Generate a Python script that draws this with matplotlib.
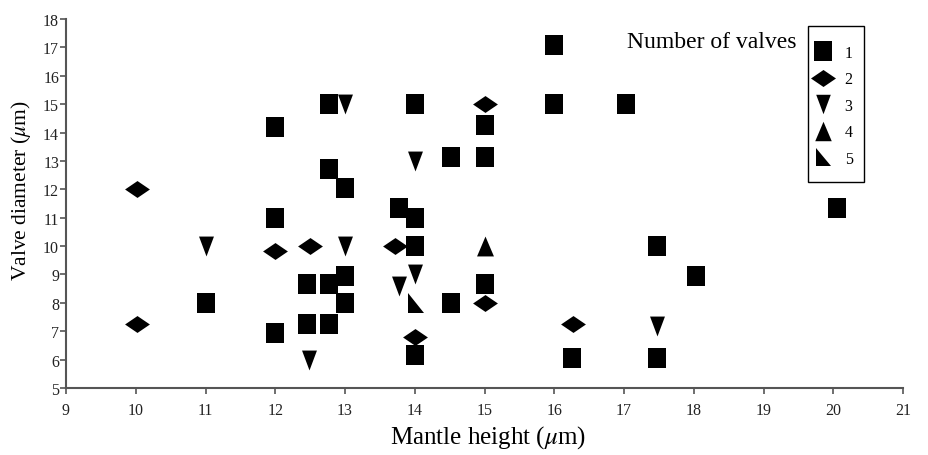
import matplotlib
matplotlib.use('Agg')
import matplotlib.pyplot as plt
from matplotlib.lines import Line2D
from matplotlib.patches import Rectangle

plt.rcParams['font.family'] = ['Liberation Serif', 'DejaVu Serif']
plt.rcParams['mathtext.fontset'] = 'stix'

# 1 valve (squares)
sq_x = [11, 12, 12, 12, 12.45, 12.45, 12.77, 12.77, 12.77, 12.77, 13, 13, 13,
        13.78, 14, 14, 14, 14, 14.52, 14.52, 15, 15, 15, 16, 16, 16.25, 17.03,
        17.47, 17.47, 18.03, 20.05]
sq_y = [8, 14.2, 11, 6.95, 8.65, 7.25, 15, 12.7, 8.65, 7.25, 12.05, 8.95, 8,
        11.35, 15, 11, 10, 6.15, 13.15, 8, 14.25, 13.15, 8.65, 17.1, 15, 6.07, 15,
        10, 6.07, 8.95, 11.35]
# 2 valves (diamonds)
di_x = [10.02, 10.02, 12, 12.5, 13.72, 14, 15, 15, 16.27]
di_y = [12, 7.25, 9.83, 10, 10, 6.8, 15, 8, 7.25]
# 3 valves (down triangles)
dn_x = [11, 12.48, 13, 13, 13.78, 14, 14, 17.47]
dn_y = [10, 6, 15, 10, 8.6, 9, 13, 7.2]
# 4 valves (up triangle)
up_x = [15]
up_y = [10]
# 5 valves (right triangle)
rt_x = [14.02]
rt_y = [8]

x_ticks = list(range(9, 22))
y_ticks = list(range(5, 19))
labels = ['1', '2', '3', '4', '5']

# marker shapes
m_sq = [(-0.9, -1), (0.9, -1), (0.9, 1), (-0.9, 1)]
m_di = [(-1, 0), (0, 0.68), (1, 0), (0, -0.68)]
m_dn = [(-0.75, 1), (0.75, 1), (0, -1)]
m_up = [(-0.85, -1), (0.85, -1), (0, 1)]
m_rt = [(-0.8, 1), (-0.8, -1), (0.8, -1)]

fig = plt.figure(figsize=(9.29, 4.56), dpi=100)
ax = fig.add_axes([66 / 929, (456 - 389) / 456, (903 - 66) / 929, (389 - 20) / 456])

ax.scatter(sq_x, sq_y, marker=m_sq, s=205, c='black', lw=0)
ax.scatter(di_x, di_y, marker=m_di, s=320, c='black', lw=0)
ax.scatter(dn_x, dn_y, marker=m_dn, s=205, c='black', lw=0)
ax.scatter(up_x, up_y, marker=m_up, s=205, c='black', lw=0)
ax.scatter(rt_x, rt_y, marker=m_rt, s=190, c='black', lw=0)

ax.set_xlim(9, 21)
ax.set_ylim(5, 18)
ax.set_xticks(x_ticks)
ax.set_yticks(y_ticks)
ax.spines['top'].set_visible(False)
ax.spines['right'].set_visible(False)
for s in ['left', 'bottom']:
    ax.spines[s].set_color('#555555')
    ax.spines[s].set_linewidth(1.5)
ax.tick_params(direction='out', length=4, width=1.2, color='#555555',
               labelsize=11.5, labelcolor='#222222')
ax.tick_params(axis='y', pad=1)
ax.tick_params(axis='x', pad=6)

ax.set_xlabel('Mantle height ($\\mu$m)', fontsize=18)
ax.set_ylabel('Valve diameter ($\\mu$m)', fontsize=15.5)
ax.xaxis.set_label_coords(0.5036, -0.094)
ax.yaxis.set_label_coords(-0.04, 0.537)

# legend (box drawn separately)
handles = [
    Line2D([], [], ls='none', marker=m_sq, ms=14, color='black', mew=0),
    Line2D([], [], ls='none', marker=m_di, ms=18, color='black', mew=0),
    Line2D([], [], ls='none', marker=m_dn, ms=14, color='black', mew=0),
    Line2D([], [], ls='none', marker=m_up, ms=14, color='black', mew=0),
    Line2D([], [], ls='none', marker=m_rt, ms=13.5, color='black', mew=0),
]
ax.legend(handles, labels, loc='upper left',
          bbox_to_anchor=(812.3 / 929, 1 - 46 / 456), bbox_transform=fig.transFigure,
          fontsize=11.5, frameon=False, handlelength=1.4, handletextpad=0.62,
          labelspacing=0.655, borderpad=0, borderaxespad=0)
fig.patches.append(Rectangle((808 / 929, 1 - 183 / 456), 56 / 929, 156 / 456,
                             transform=fig.transFigure, fill=False,
                             edgecolor='black', lw=1.0))

fig.text(797 / 929, 1 - 42 / 456, 'Number of valves', fontsize=17,
         ha='right', va='center')

fig.savefig('out.png', dpi=100)
